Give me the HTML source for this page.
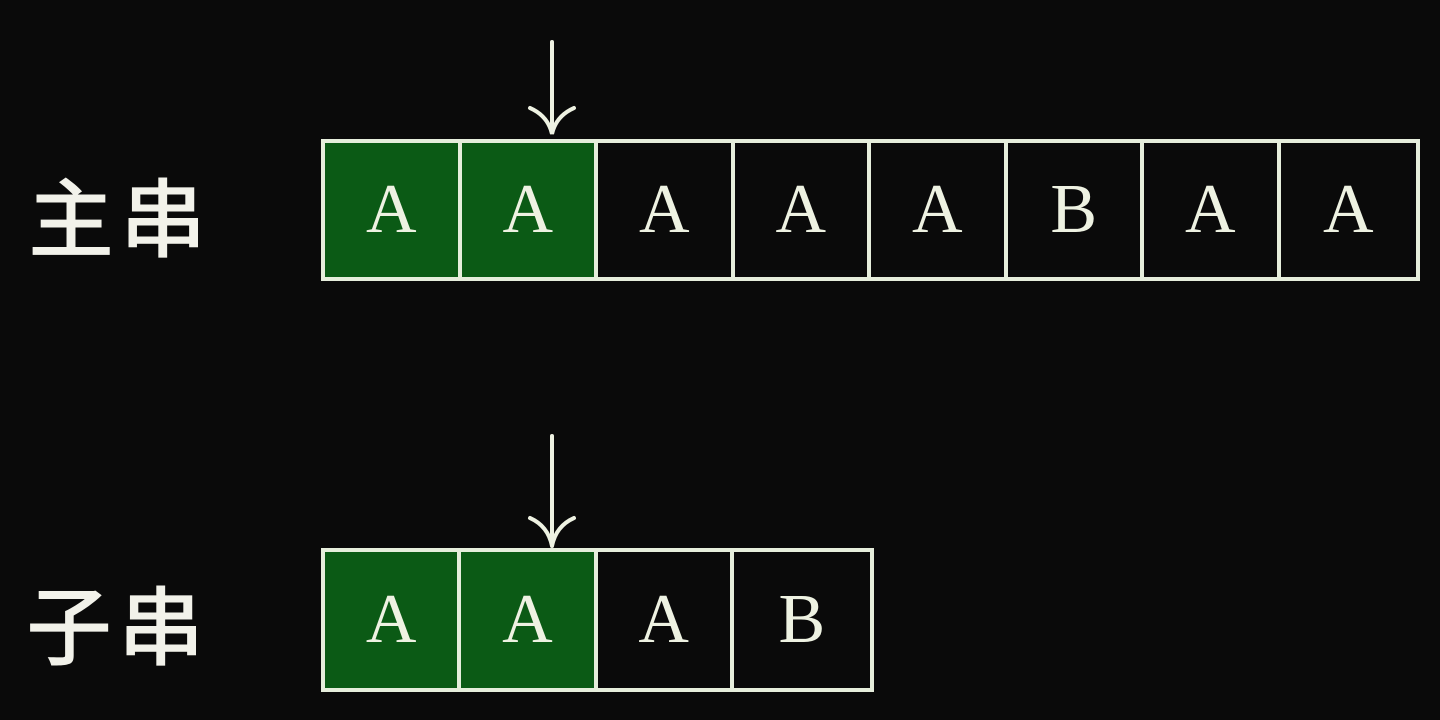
<!DOCTYPE html>
<html><head><meta charset="utf-8"><style>
html,body{margin:0;padding:0;background:#0a0a0a;width:1440px;height:720px;overflow:hidden;position:relative;font-family:"Liberation Serif",serif}
.lbl{position:absolute;color:#f2f2ea;font-family:"Noto Sans CJK SC",sans-serif;font-weight:500;font-size:86px;line-height:1;letter-spacing:6px}
.row{position:absolute;display:flex;border:4px solid #e6eedc;box-sizing:border-box}
.cell{width:137px;height:100%;box-sizing:border-box;border-right:4px solid #e6eedc;color:#eef2e2;font-size:70px;display:flex;align-items:center;justify-content:center}
.cell:last-child{border-right:none}
.g{background:#0b5a15}
</style></head><body>
<div class="lbl" style="left:28px;top:170px">主串</div>
<div class="lbl" style="left:26px;top:578px">子串</div>
<div class="row" style="left:321px;top:139px;width:1099px;height:142px">
<div class="cell g">A</div><div class="cell g">A</div><div class="cell">A</div><div class="cell">A</div><div class="cell">A</div><div class="cell">B</div><div class="cell">A</div><div class="cell" style="width:136px">A</div>
</div>
<div class="row" style="left:321px;top:548px;width:553px;height:144px">
<div class="cell g">A</div><div class="cell g">A</div><div class="cell">A</div><div class="cell">B</div>
</div>
<svg width="1440" height="720" style="position:absolute;left:0;top:0">
<g stroke="#eef2e2" stroke-width="4" fill="none" stroke-linecap="round">
<line x1="552" y1="42" x2="552" y2="132"/>
<path d="M530 108 Q548 116 552 134 Q556 116 574 108"/>
<line x1="552" y1="436" x2="552" y2="546"/>
<path d="M530 518 Q548 526 552 546 Q556 526 574 518"/>
</g></svg>
</body></html>
